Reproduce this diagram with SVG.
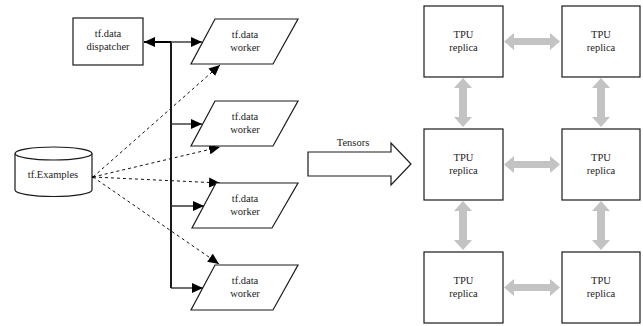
<svg xmlns="http://www.w3.org/2000/svg" width="643" height="326" viewBox="0 0 643 326" font-family="'Liberation Serif', 'Times New Roman', serif">
<defs>
<style>
.box{fill:#fff;stroke:#1a1a1a;stroke-width:1.2}
text{font-family:'Liberation Serif','Times New Roman',serif;font-size:10.5px;fill:#222;text-anchor:middle}
.solid{fill:none;stroke:#333;stroke-width:1.4}
.dash{fill:none;stroke:#111;stroke-width:1;stroke-dasharray:3,3}
.gray{fill:#c3c3c3;stroke:none}
</style>
<marker id="ah" markerUnits="userSpaceOnUse" markerWidth="12" markerHeight="10" refX="11" refY="5" orient="auto">
<path d="M0,0 L11,5 L0,10 Z" fill="#000"/>
</marker>
</defs>
<g id="connectors">
<path d="M171,42 V288" fill="none" stroke="#000" stroke-width="1.8"/>
<path d="M171,42 H144" fill="none" stroke="#000" stroke-width="2" marker-end="url(#ah)"/>
<path class="solid" d="M171,42 H202" marker-end="url(#ah)"/>
<path class="solid" d="M171,124 H202" marker-end="url(#ah)"/>
<path class="solid" d="M171,206 H204" marker-end="url(#ah)"/>
<path class="solid" d="M171,288 H203" marker-end="url(#ah)"/>
<path class="dash" d="M93,177 L220,65" marker-end="url(#ah)"/>
<path class="dash" d="M93,177 L220,147" marker-end="url(#ah)"/>
<path class="dash" d="M93,177 L220,183" marker-end="url(#ah)"/>
<path class="dash" d="M93,177 L219,264" marker-end="url(#ah)"/>
<circle cx="93" cy="177" r="1.3" fill="#000"/>
<polygon class="gray" points="504,41.5 514,33 514,38 550,38 550,33 560,41.5 550,50 550,45 514,45 514,50"/>
<polygon class="gray" points="504,164.5 514,156 514,161 550,161 550,156 560,164.5 550,173 550,168 514,168 514,173"/>
<polygon class="gray" points="504,287.5 514,279 514,284 550,284 550,279 560,287.5 550,296 550,291 514,291 514,296"/>
<polygon class="gray" points="463,78 472,88 467,88 467,117 472,117 463,127 454,117 459,117 459,88 454,88"/>
<polygon class="gray" points="463,201 472,211 467,211 467,240 472,240 463,250 454,240 459,240 459,211 454,211"/>
<polygon class="gray" points="601,78 610,88 605,88 605,117 610,117 601,127 592,117 597,117 597,88 592,88"/>
<polygon class="gray" points="601,201 610,211 605,211 605,240 610,240 601,250 592,240 597,240 597,211 592,211"/>
</g>
<g id="dispatcher">
<rect class="box" x="73" y="18" width="70" height="47"/>
<text x="108" y="37">tf.data</text>
<text x="108" y="50">dispatcher</text>
</g>
<g id="worker1">
<polygon class="box" points="215,19 298,19 273,64 191,64"/>
<text x="245" y="38">tf.data</text>
<text x="245" y="51">worker</text>
</g>
<g id="worker2">
<polygon class="box" points="215,101 298,101 273,146 191,146"/>
<text x="245" y="120">tf.data</text>
<text x="245" y="133">worker</text>
</g>
<g id="worker3">
<polygon class="box" points="216,183 298,183 272,228 192,228"/>
<text x="245" y="202">tf.data</text>
<text x="245" y="215">worker</text>
</g>
<g id="worker4">
<polygon class="box" points="215,265 298,265 273,310 191,310"/>
<text x="245" y="284">tf.data</text>
<text x="245" y="297">worker</text>
</g>
<g id="examples">
<path class="box" d="M15,153.5 V190 A38.5,6.5 0 0 0 92,190 V153.5"/>
<ellipse class="box" cx="53.5" cy="153.5" rx="38.5" ry="6.5"/>
<text x="53" y="178">tf.Examples</text>
</g>
<g id="tensors">
<polygon class="box" points="308,152 391,152 391,143 411,164 391,185 391,176 308,176"/>
<text x="353" y="146">Tensors</text>
</g>
<g id="tpu1"><rect class="box" x="424" y="6" width="79" height="71"/><text x="463.5" y="38">TPU</text><text x="463.5" y="51">replica</text></g>
<g id="tpu2"><rect class="box" x="562" y="6" width="78" height="71"/><text x="601" y="38">TPU</text><text x="601" y="51">replica</text></g>
<g id="tpu3"><rect class="box" x="424" y="129" width="79" height="71"/><text x="463.5" y="161">TPU</text><text x="463.5" y="174">replica</text></g>
<g id="tpu4"><rect class="box" x="562" y="129" width="78" height="71"/><text x="601" y="161">TPU</text><text x="601" y="174">replica</text></g>
<g id="tpu5"><rect class="box" x="424" y="252" width="79" height="71"/><text x="463.5" y="284">TPU</text><text x="463.5" y="297">replica</text></g>
<g id="tpu6"><rect class="box" x="562" y="252" width="78" height="71"/><text x="601" y="284">TPU</text><text x="601" y="297">replica</text></g>
</svg>
